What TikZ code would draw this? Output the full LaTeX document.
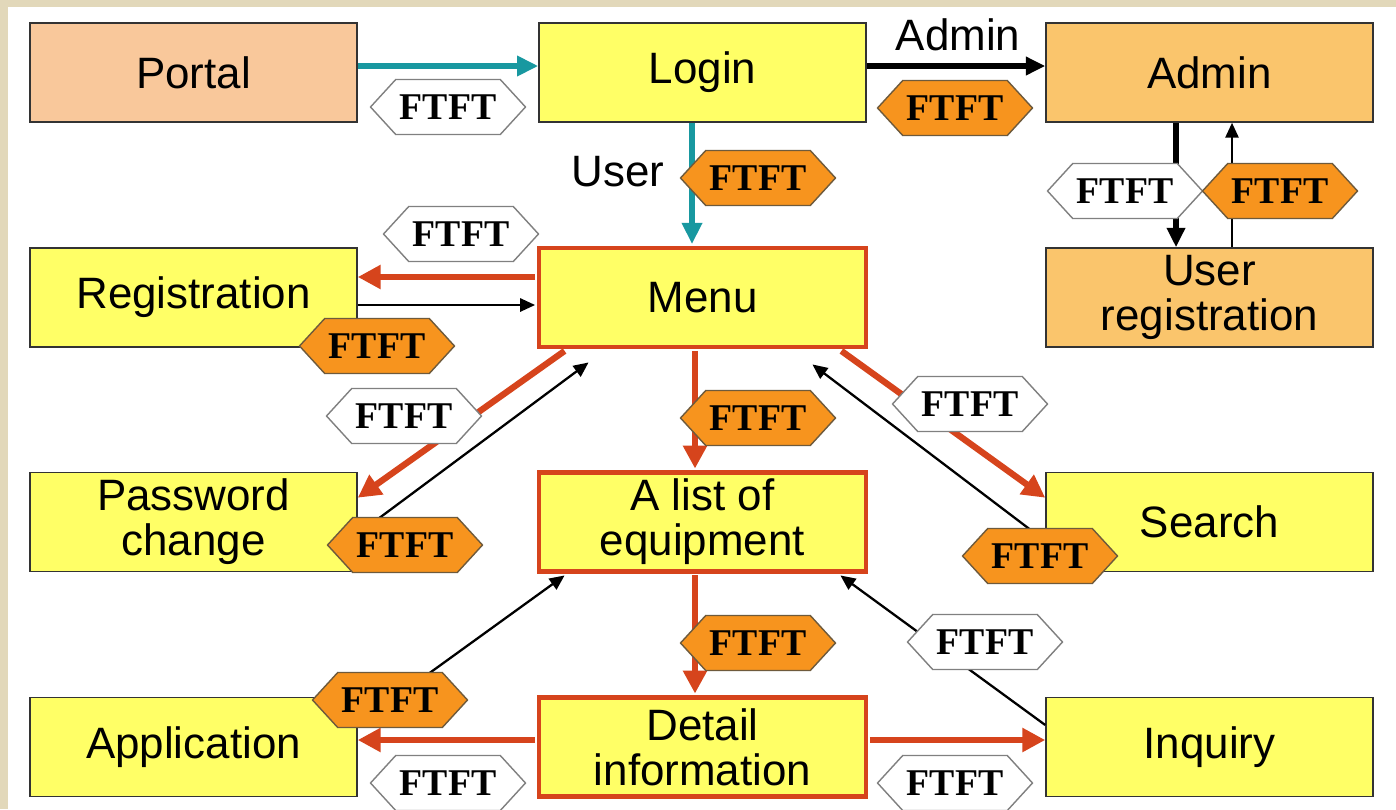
\documentclass[tikz,border=0pt]{standalone}
\usepackage{fontspec}
\setmainfont{Liberation Sans}
\newfontfamily\ftftfont{Liberation Serif}
\usetikzlibrary{arrows.meta,shapes.symbols,calc}

\definecolor{bgbeige}{RGB}{226,216,186}
\definecolor{boxyellow}{RGB}{255,255,102}
\definecolor{portalpeach}{RGB}{249,200,155}
\definecolor{adminorange}{RGB}{250,197,108}
\definecolor{flowred}{RGB}{214,68,28}
\definecolor{flowteal}{RGB}{24,152,160}
\definecolor{tagorange}{RGB}{247,148,30}
\definecolor{tagedge}{RGB}{110,90,60}
\definecolor{tagwhiteedge}{RGB}{128,128,128}

\begin{document}
\begin{tikzpicture}[x=0.02cm,y=-0.02cm,
  screen/.style={draw=black!80, line width=0.9pt, minimum width=6.54cm, minimum height=1.98cm,
    align=center, inner sep=0pt, font=\fontsize{25}{25.5}\selectfont, fill=boxyellow},
  hub/.style={screen, draw=flowred, line width=2.8pt},
  tag/.style={shape=signal, signal to=west and east, signal pointer angle=95,
    minimum width=3.1cm, minimum height=1.1cm, inner sep=0pt,
    font=\ftftfont\bfseries\fontsize{21.5}{22}\selectfont, line width=0.8pt},
  tagon/.style={tag, fill=tagorange, draw=tagedge},
  tagoff/.style={tag, fill=white, draw=tagwhiteedge},
  redflow/.style={draw=flowred, line width=3.6pt, -{Triangle[length=13pt,width=13pt]}},
  tealflow/.style={draw=flowteal, line width=3pt, -{Triangle[length=12pt,width=11pt]}},
  boldflow/.style={draw=black, line width=3pt, -{Triangle[length=11pt,width=10pt]}},
  thinflow/.style={draw=black, line width=1.3pt, -{Triangle[length=8.5pt,width=7.5pt]}},
  caption/.style={font=\fontsize{25}{25.5}\selectfont, inner sep=0pt}
]
% page and panel
\fill[bgbeige] (0,0) rectangle (1396,809);
\fill[white] (8,7) rectangle (1396,809);
\useasboundingbox (0,0) rectangle (1396,809);

% screens
\node[screen, fill=portalpeach] (portal) at (193.5,72.5) {Portal};
\node[screen] (login) at (702.5,72.5) {Login};
\node[screen, fill=adminorange] (admin) at (1209.5,72.5) {Admin};
\node[screen] (reg) at (193.5,297.5) {Registration};
\node[hub] (menu) at (702.5,297.5) {Menu};
\node[screen, fill=adminorange] (ureg) at (1209.5,297.5) {User\\registration};
\node[screen] (pw) at (193.5,522) {Password\\change};
\node[hub] (list) at (702.5,522) {A list of\\equipment};
\node[screen] (search) at (1209.5,522) {Search};
\node[screen] (app) at (193.5,747) {Application};
\node[hub] (detail) at (702.5,747) {Detail\\information};
\node[screen] (inq) at (1209.5,747) {Inquiry};

% captions
\node[caption] (admincap) at (958,35) {Admin};
\node[caption] (usercap) at (618,172) {User};

% transitions
\draw[tealflow] ($(portal.east)+(0,-6.5)$) -- ($(login.west)+(0,-6.5)$);
\draw[boldflow] ($(login.east)+(0,-6.5)$) -- ($(admin.west)+(0,-6.5)$);
\draw[tealflow] ($(login.south)+(-10.5,0)$) -- ($(menu.north)+(-10.5,-1.5)$);
\draw[boldflow] ($(admin.south)+(-33.5,0)$) -- ($(ureg.north)+(-33.5,0)$);
\draw[thinflow] ($(ureg.north)+(22.5,0)$) -- ($(admin.south)+(22.5,0)$);

\draw[redflow] ($(menu.west)+(-1.5,-20.5)$) -- ($(reg.east)+(0,-20.5)$);
\draw[thinflow] ($(reg.east)+(0,7.5)$) -- ($(menu.west)+(-1.5,7.5)$);
\draw[redflow] ($(menu.south west)+(28,1.5)$) -- ($(pw.north east)+(0,26)$);
\draw[thinflow] ($(pw.east)+(0,12)$) -- ($(menu.south west)+(52,13)$);
\draw[redflow] ($(menu.south)+(-7.5,1.5)$) -- ($(list.north)+(-7.5,-1.5)$);
\draw[redflow] ($(menu.south east)+(-27,1.5)$) -- ($(search.north west)+(0,26)$);
\draw[thinflow] ($(search.west)+(0,19)$) -- ($(menu.south east)+(-56,15)$);

\draw[redflow] ($(list.south)+(-7.5,1.5)$) -- ($(detail.north)+(-7.5,-1.5)$);
\draw[thinflow] ($(app.north east)+(39,0)$) -- ($(list.south west)+(28,1.5)$);
\draw[thinflow] ($(inq.west)+(0,-22)$) -- ($(list.south east)+(-28,1.5)$);
\draw[redflow] ($(detail.west)+(-1.5,-7)$) -- ($(app.east)+(0,-7)$);
\draw[redflow] ($(detail.east)+(1.5,-7)$) -- ($(inq.west)+(0,-7)$);

% FTFT tags
\node[tagoff] (t1) at (448,107) {FTFT};
\node[tagon]  (t2) at (955,108) {FTFT};
\node[tagon]  (t3) at (758,178) {FTFT};
\node[tagoff] (t4) at (461,234) {FTFT};
\node[tagoff] (t5) at (1125,191) {FTFT};
\node[tagon]  (t6) at (1280,191) {FTFT};
\node[tagon]  (t7) at (377,346) {FTFT};
\node[tagoff] (t8) at (404,416) {FTFT};
\node[tagon]  (t9) at (405,545) {FTFT};
\node[tagon]  (t10) at (758,418) {FTFT};
\node[tagoff] (t11) at (970,404) {FTFT};
\node[tagon]  (t12) at (1040,556) {FTFT};
\node[tagon]  (t13) at (758,643) {FTFT};
\node[tagoff] (t14) at (985,642) {FTFT};
\node[tagon]  (t15) at (390,700) {FTFT};
\node[tagoff] (t16) at (448,783) {FTFT};
\node[tagoff] (t17) at (955,783) {FTFT};
\end{tikzpicture}
\end{document}
